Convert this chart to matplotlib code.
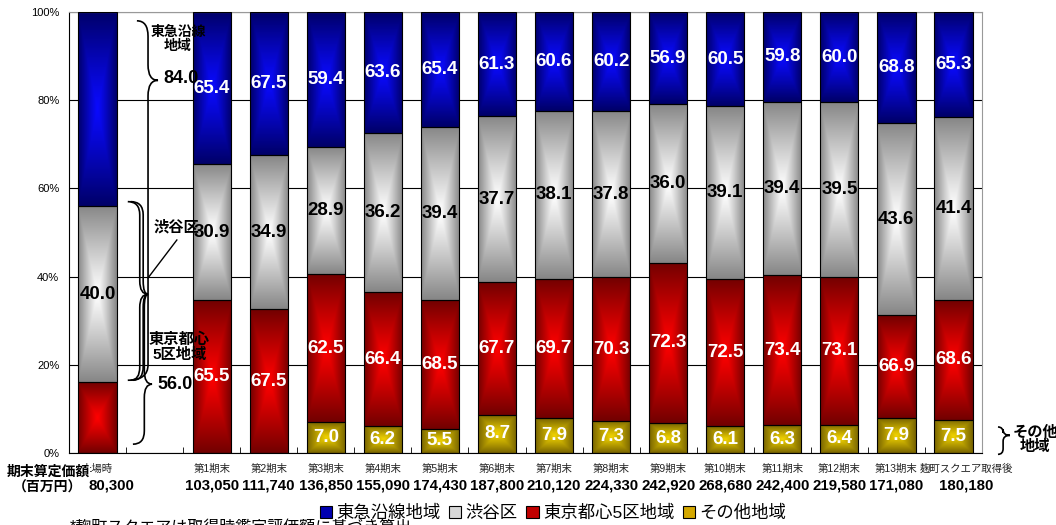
import numpy as np
import matplotlib
matplotlib.use("Agg")
import matplotlib.pyplot as plt
from matplotlib.path import Path
from matplotlib.patches import PathPatch, Patch

plt.rcParams['font.family'] = ['Liberation Sans', 'Noto Sans CJK JP']

# data (one empty slot between 上場時 and 第1期末)
periods = ["上場時", "", "第1期末", "第2期末", "第3期末", "第4期末", "第5期末", "第6期末",
           "第7期末", "第8期末", "第9期末", "第10期末", "第11期末", "第12期末", "第13期末",
           "麹町スクエア取得後"]
totals = ["80,300", "", "103,050", "111,740", "136,850", "155,090", "174,430", "187,800",
          "210,120", "224,330", "242,920", "268,680", "242,400", "219,580", "171,080", "180,180"]
# 東急沿線地域 and 東京都心5区地域 both include 渋谷区
tokyu = [84.0, 0, 65.4, 67.5, 59.4, 63.6, 65.4, 61.3, 60.6, 60.2, 56.9, 60.5, 59.8, 60.0, 68.8, 65.3]
shibuya = [40.0, 0, 30.9, 34.9, 28.9, 36.2, 39.4, 37.7, 38.1, 37.8, 36.0, 39.1, 39.4, 39.5, 43.6, 41.4]
toshin5 = [56.0, 0, 65.5, 67.5, 62.5, 66.4, 68.5, 67.7, 69.7, 70.3, 72.3, 72.5, 73.4, 73.1, 66.9, 68.6]
other = [0, 0, 0, 0, 7.0, 6.2, 5.5, 8.7, 7.9, 7.3, 6.8, 6.1, 6.3, 6.4, 7.9, 7.5]

idx = np.array([i for i, p in enumerate(periods) if p])
tokyu = np.array(tokyu)[idx]
shibuya = np.array(shibuya)[idx]
toshin5 = np.array(toshin5)[idx]
other = np.array(other)[idx]

# stacked segment heights
h_yellow = other
h_red = toshin5 - shibuya
h_gray = shibuya
h_blue = tokyu - shibuya

fig = plt.figure(figsize=(10.56, 5.25), dpi=100)
ax = fig.add_axes([69/1056, 1-453/525, 913/1056, 441/525])


def grad_img(center, edge, n=80):
    # rectangular "path from center" gradient
    u = np.linspace(-1, 1, n)
    U, V = np.meshgrid(u, u)
    t = np.maximum(np.abs(U), np.abs(V)) ** 1.1
    c = np.array(center) / 255
    e = np.array(edge) / 255
    return c * (1 - t)[..., None] + e * t[..., None]


layers = [
    (h_yellow, 0, grad_img((240, 210, 0), (120, 100, 0))),
    (h_red, h_yellow, grad_img((255, 0, 0), (115, 0, 0))),
    (h_gray, h_yellow + h_red, grad_img((255, 255, 255), (135, 135, 135))),
    (h_blue, h_yellow + h_red + h_gray, grad_img((10, 10, 255), (0, 0, 105))),
]
w = 0.67
for h, b, img in layers:
    bars = ax.bar(idx, h, width=w, bottom=b, color='none', edgecolor='black', lw=0.8, zorder=3)
    for r in bars:
        if r.get_height() <= 0:
            continue
        x0, y0 = r.get_x(), r.get_y()
        im = ax.imshow(img, extent=[x0, x0 + r.get_width(), y0, y0 + r.get_height()],
                       aspect='auto', interpolation='bilinear', zorder=2)
        im.set_clip_path(r)

# value labels
lab = dict(ha='center', va='center', fontsize=13.5, fontweight='bold', zorder=5)
for k, x in enumerate(idx):
    yb = h_yellow[k]
    yr = yb + h_red[k]
    yg = yr + h_gray[k]
    if other[k] > 0:
        ax.text(x, yb / 2, "%.1f" % other[k], color='white', **lab)
    ax.text(x, (yr + yg) / 2, "%.1f" % shibuya[k], color='black', **lab)
    if k > 0:
        ax.text(x, (yb + yr) / 2, "%.1f" % toshin5[k], color='white', **lab)
        ax.text(x, (yg + 100) / 2, "%.1f" % tokyu[k], color='white', **lab)

# axes styling
ax.set_xlim(-0.5, 15.5)
ax.set_ylim(0, 100)
ax.set_yticks(range(0, 101, 20))
ax.set_yticklabels(["%d%%" % v for v in range(0, 101, 20)], fontsize=8)
ax.tick_params(axis='y', length=0, pad=7)
ax.set_xticks([])
ax.set_xticks(np.arange(0.5, 15, 1), minor=True)
ax.tick_params(axis='x', which='minor', direction='in', length=4, color='black')
ax.yaxis.grid(True, color='black', lw=0.8)
ax.set_axisbelow(True)
for s in ['top', 'right']:
    ax.spines[s].set_color('#999999')
for s in ['left', 'bottom']:
    ax.spines[s].set_color('black')
for s in ax.spines.values():
    s.set_linewidth(0.8)

# category labels and totals
for i, (p, t) in enumerate(zip(periods, totals)):
    if not p:
        continue
    dx = 0.22 if i == len(periods) - 1 else 0
    tx = 0.25 if i == 0 else dx
    ax.text(i + dx, -3.6, p, ha='center', va='center', fontsize=7.5, color='#222222', clip_on=False)
    ax.text(i + tx, -7.3, t, ha='center', va='center', fontsize=10.8, fontweight='bold', clip_on=False)
ax.text(-0.87, -4.3, "期末算定価額", ha='center', va='center', fontsize=10, fontweight='bold',
        clip_on=False, zorder=6, bbox=dict(fc='white', ec='none', pad=0))
ax.text(-0.87, -7.8, "（百万円）", ha='center', va='center', fontsize=10, fontweight='bold',
        clip_on=False, zorder=6)


def brace(x_line, x_tip, y_top, y_bot, y_tip, x_top, x_bot, r, lw=1.2):
    verts = [(x_top, y_top), (x_line, y_top), (x_line, y_top - r),
             (x_line, y_tip + r), (x_line, y_tip), (x_tip, y_tip),
             (x_line, y_tip), (x_line, y_tip - r),
             (x_line, y_bot + r), (x_line, y_bot), (x_bot, y_bot)]
    codes = [Path.MOVETO, Path.CURVE3, Path.CURVE3, Path.LINETO, Path.CURVE3, Path.CURVE3,
             Path.CURVE3, Path.CURVE3, Path.LINETO, Path.CURVE3, Path.CURVE3]
    ax.add_patch(PathPatch(Path(verts, codes), fc='none', ec='black', lw=lw,
                           clip_on=False, zorder=4))


# braces for the first bar
brace(0.885, 1.06, 98, 16.5, 84.5, 0.69, 0.53, 3.5)
brace(0.74, 0.885, 57, 16.5, 36, 0.53, 0.58, 3)
brace(0.80, 0.885, 57, 16.5, 36, 0.58, 0.62, 3)
brace(0.82, 0.955, 36, 2, 15.6, 0.885, 0.62, 3)
ax.plot([1.39, 0.885], [48.3, 39.7], color='black', lw=1, zorder=4)
bt = dict(ha='center', va='center', fontweight='bold', zorder=6, clip_on=False)
ax.text(1.41, 93.9, "東急沿線\n地域", fontsize=10, linespacing=1.05, **bt)
ax.text(1.16, 85.0, "84.0", fontsize=13, ha='left', va='center', fontweight='bold', zorder=6)
ax.text(1.39, 51.2, "渋谷区", fontsize=11, **bt)
ax.text(1.43, 24.0, "東京都心\n5区地域", fontsize=11, linespacing=1.05, **bt)
ax.text(1.05, 15.6, "56.0", fontsize=13, ha='left', va='center', fontweight='bold', zorder=6)

# brace for その他地域 on the right
brace(15.87, 15.99, 5.9, -0.3, 4.0, 15.78, 15.78, 1.3)
ax.text(16.43, 2.9, "その他\n地域", fontsize=11, linespacing=1.0, **bt)

# legend
handles = [Patch(fc='#0000b0', ec='black', lw=0.8), Patch(fc='#d8d8d8', ec='black', lw=0.8),
           Patch(fc='#c00000', ec='black', lw=0.8), Patch(fc='#d4a800', ec='black', lw=0.8)]
names = ["東急沿線地域", "渋谷区", "東京都心5区地域", "その他地域"]
fig.text(70/1056, 1-520/525, "*麹町スクエアは取得時鑑定評価額に基づき算出", va='top', fontsize=11.5)
fig.legend(handles, names, loc='center', bbox_to_anchor=(553/1056, 1-513/525), ncol=4,
           frameon=False, fontsize=12.5, handlelength=0.7, handleheight=0.7,
           handletextpad=0.25, columnspacing=0.5, borderpad=0)

plt.savefig("out.png", dpi=100)
